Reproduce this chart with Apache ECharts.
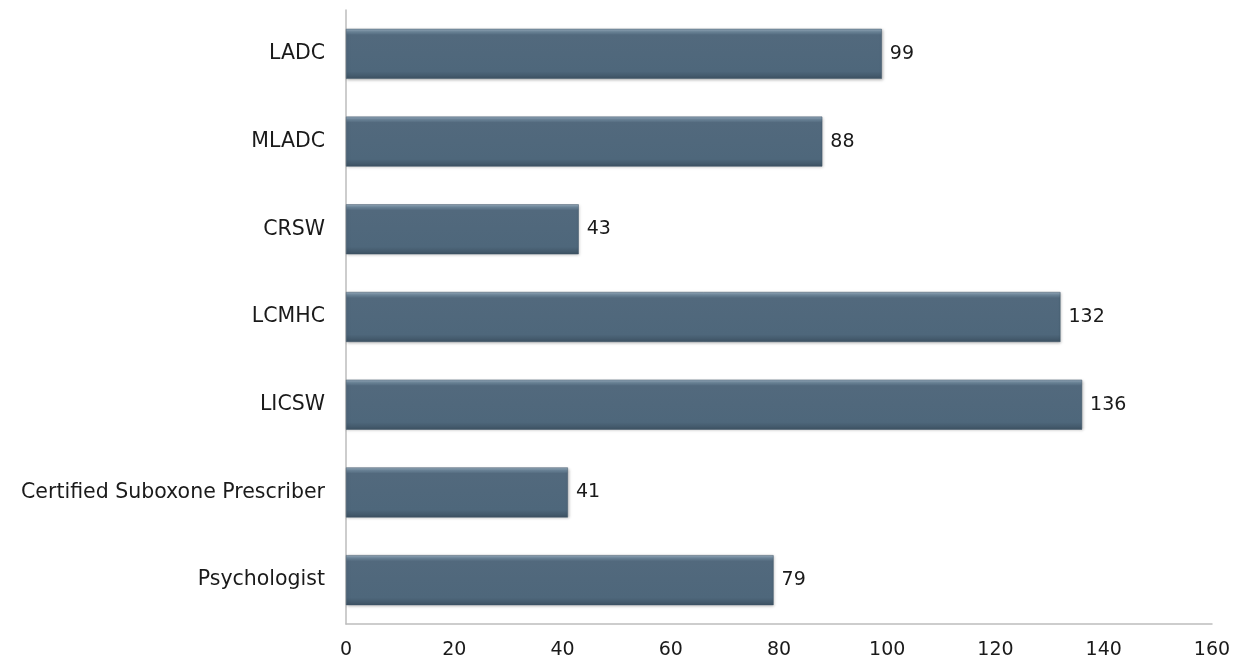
<!DOCTYPE html>
<html><head><meta charset="utf-8">
<script src="https://cdn.jsdelivr.net/npm/echarts@6/dist/echarts.min.js"></script>
<style>html,body{margin:0;padding:0;background:#fff}#c{width:1239px;height:667px}</style>
</head><body><div id="c"></div>
<script>
const categories = ["Psychologist","Certified Suboxone Prescriber","LICSW","LCMHC","CRSW","MLADC","LADC"];
const values = [79,41,136,132,43,88,99];
const xTicks = [0,20,40,60,80,100,120,140,160];

const chart = echarts.init(document.getElementById('c'));
const font = "'DejaVu Sans', sans-serif";
chart.setOption({
  animation:false,
  grid:{left:346,right:27,top:10,bottom:43,containLabel:false},
  xAxis:{type:'value',min:0,max:160,interval:20,
    axisLine:{show:true,lineStyle:{color:'#bdbdbd',width:1.5}},
    axisTick:{show:false},splitLine:{show:false},
    axisLabel:{color:'#1a1a1a',fontSize:19,fontFamily:font,margin:17,
      formatter:v=>xTicks.includes(v)?String(v):''}},
  yAxis:{type:'category',data:categories,
    axisLine:{show:true,lineStyle:{color:'#bdbdbd',width:1.5}},
    axisTick:{show:false},
    axisLabel:{color:'#1a1a1a',fontSize:20.5,fontFamily:font,margin:21}},
  series:[{type:'bar',data:values,barCategoryGap:'43%',
    itemStyle:{
      color:new echarts.graphic.LinearGradient(0,0,0,1,[
        {offset:0,color:'#9bb0c2'},{offset:0.06,color:'#6a8397'},
        {offset:0.12,color:'#52697d'},{offset:0.85,color:'#4e677b'},
        {offset:1,color:'#3d5263'}]),
      borderColor:'#3f5466',borderWidth:0.5,
      shadowColor:'rgba(0,0,0,0.25)',shadowBlur:3,shadowOffsetX:1,shadowOffsetY:1},
    label:{show:true,position:'right',distance:8,color:'#1a1a1a',fontSize:19,fontFamily:font}
  }]
});
</script></body></html>
